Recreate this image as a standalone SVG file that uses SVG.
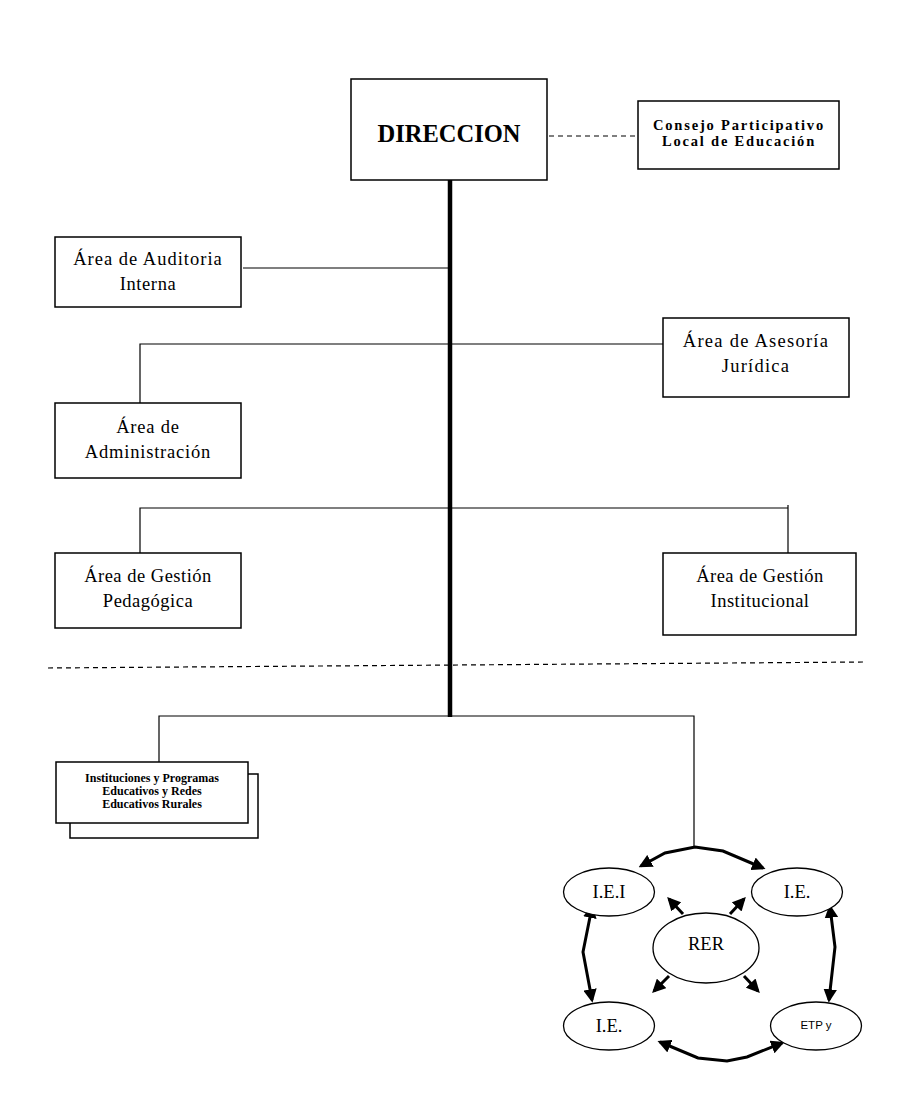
<svg xmlns="http://www.w3.org/2000/svg" width="899" height="1101" viewBox="0 0 899 1101">
<defs>
<style>
.box{fill:#fff;stroke:#000;stroke-width:1.5}
.ln{fill:none;stroke:#000;stroke-width:1.2}
.thick{fill:none;stroke:#000;stroke-width:4.5}
.dash{fill:none;stroke:#000;stroke-width:1.2;stroke-dasharray:5,4}
.arr{fill:none;stroke:#000;stroke-width:3}
.t{font-family:"Liberation Serif","Times New Roman",serif;font-size:18.5px;text-anchor:middle;fill:#000}
.tb{font-family:"Liberation Serif","Times New Roman",serif;font-weight:bold;text-anchor:middle;fill:#000}
.el{fill:#fff;stroke:#000;stroke-width:1.3}
</style>
<marker id="ah" viewBox="0 0 10 10" refX="8" refY="5" markerWidth="4.5" markerHeight="4.5" orient="auto-start-reverse" markerUnits="strokeWidth">
<path d="M0,0 L10,5 L0,10 z" fill="#000"/>
</marker>
</defs>
<rect width="899" height="1101" fill="#fff"/>
<g id="connectors">
<line class="dash" x1="549" y1="136" x2="637" y2="136"/>
<line class="thick" x1="450" y1="180" x2="450" y2="717"/>
<line class="ln" x1="243" y1="268" x2="448" y2="268"/>
<polyline class="ln" points="140,403 140,344 663,344"/>
<polyline class="ln" points="140,553 140,508 788,508"/>
<line class="ln" x1="788" y1="505" x2="788" y2="553"/>
<line class="dash" x1="48" y1="668" x2="866" y2="662"/>
<polyline class="ln" points="159,762 159,716 694,716 694,848"/>
<polyline class="arr" marker-start="url(#ah)" marker-end="url(#ah)" points="641,866 665,853 695,847 723,851 763,868"/>
<polyline class="arr" marker-start="url(#ah)" marker-end="url(#ah)" points="592,907 583,952 592,1000"/>
<polyline class="arr" marker-start="url(#ah)" marker-end="url(#ah)" points="830,907 835,947 829,1000"/>
<polyline class="arr" marker-start="url(#ah)" marker-end="url(#ah)" points="660,1042 698,1058 727,1061 747,1057 782,1043"/>
<line class="arr" marker-end="url(#ah)" x1="683" y1="914" x2="669" y2="899"/>
<line class="arr" marker-end="url(#ah)" x1="730" y1="914" x2="744" y2="899"/>
<line class="arr" marker-end="url(#ah)" x1="669" y1="976" x2="654" y2="991"/>
<line class="arr" marker-end="url(#ah)" x1="744" y1="976" x2="758" y2="991"/>
</g>
<g id="direccion">
<rect class="box" x="351" y="79" width="196" height="101"/>
<text class="tb" x="449" y="142" font-size="24.5">DIRECCION</text>
</g>
<g id="consejo">
<rect class="box" x="638" y="101" width="201" height="68"/>
<text class="tb" x="739" y="130" font-size="14.5" letter-spacing="1.8">Consejo Participativo</text>
<text class="tb" x="739" y="146" font-size="14.5" letter-spacing="1.8">Local de Educación</text>
</g>
<g id="auditoria">
<rect class="box" x="55" y="237" width="186" height="70"/>
<text class="t" x="148" y="265" letter-spacing="1">Área de Auditoria</text>
<text class="t" x="148" y="290" letter-spacing="0.6">Interna</text>
</g>
<g id="asesoria">
<rect class="box" x="663" y="318" width="186" height="79"/>
<text class="t" x="756" y="347" letter-spacing="1.25">Área de Asesoría</text>
<text class="t" x="756" y="372" letter-spacing="1.25">Jurídica</text>
</g>
<g id="administracion">
<rect class="box" x="55" y="403" width="186" height="75"/>
<text class="t" x="148" y="433" letter-spacing="0.8">Área de</text>
<text class="t" x="148" y="458" letter-spacing="0.8">Administración</text>
</g>
<g id="gestion-pedagogica">
<rect class="box" x="55" y="553" width="186" height="75"/>
<text class="t" x="148" y="582" font-size="19" letter-spacing="0.5">Área de Gestión</text>
<text class="t" x="148" y="607" font-size="19" letter-spacing="0.5">Pedagógica</text>
</g>
<g id="gestion-institucional">
<rect class="box" x="663" y="553" width="193" height="82"/>
<text class="t" x="760" y="582" font-size="19" letter-spacing="0.5">Área de Gestión</text>
<text class="t" x="760" y="607" font-size="19" letter-spacing="0.5">Institucional</text>
</g>
<g id="instituciones">
<rect class="box" x="70" y="774" width="188" height="64"/>
<rect class="box" x="56" y="762" width="192" height="61"/>
<text class="tb" x="152" y="782" font-size="12">Instituciones y Programas</text>
<text class="tb" x="152" y="795" font-size="12">Educativos y Redes</text>
<text class="tb" x="152" y="808" font-size="12">Educativos Rurales</text>
</g>
<g id="iei">
<ellipse class="el" cx="609" cy="892" rx="45.5" ry="24"/>
<text class="t" x="609" y="898" font-size="15">I.E.I</text>
</g>
<g id="ie-top">
<ellipse class="el" cx="797" cy="892" rx="45.5" ry="24"/>
<text class="t" x="797" y="898" font-size="15">I.E.</text>
</g>
<g id="rer">
<ellipse class="el" cx="706" cy="948" rx="53" ry="35"/>
<text class="t" x="706" y="950" font-size="15">RER</text>
</g>
<g id="ie-bottom">
<ellipse class="el" cx="609" cy="1026" rx="45.5" ry="24"/>
<text class="t" x="609" y="1032" font-size="15">I.E.</text>
</g>
<g id="etp">
<ellipse class="el" cx="816" cy="1026" rx="45.5" ry="24"/>
<text x="816" y="1029" font-family="Liberation Sans, Arial, sans-serif" font-size="11.5" text-anchor="middle">ETP y</text>
</g>
</svg>
